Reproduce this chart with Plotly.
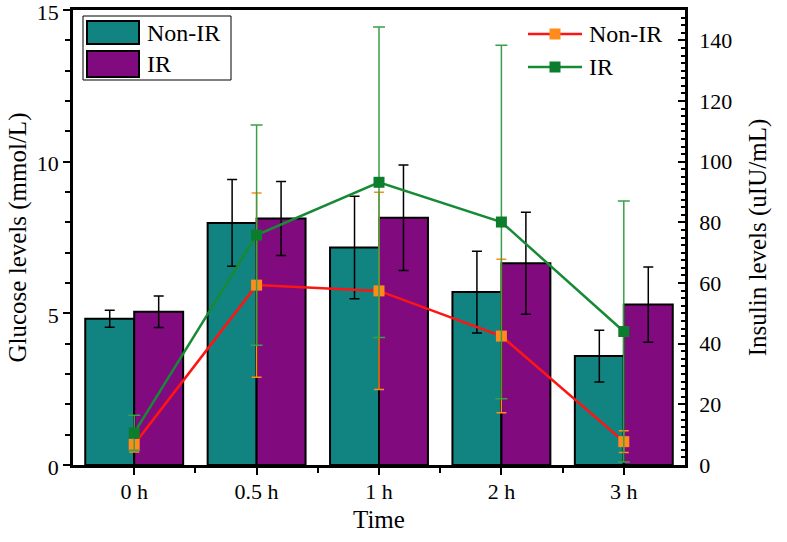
import plotly.graph_objects as go

categories = ["0 h", "0.5 h", "1 h", "2 h", "3 h"]
glucose_nonir = [4.82, 7.98, 7.17, 5.70, 3.59]
glucose_nonir_sd = [0.28, 1.43, 1.69, 1.35, 0.85]
glucose_ir = [5.05, 8.13, 8.15, 6.65, 5.29]
glucose_ir_sd = [0.52, 1.22, 1.74, 1.68, 1.24]
insulin_nonir = [6.8, 59.3, 57.4, 42.5, 7.7]
insulin_nonir_sd = [2.5, 30.4, 32.5, 25.3, 3.6]
insulin_ir = [10.6, 75.8, 93.2, 80.1, 44.0]
insulin_ir_sd = [5.8, 36.3, 51.2, 58.3, 43.0]

FONT = '"Liberation Serif", "Times New Roman", serif'
TEAL = "#118381"
PURPLE = "#800a7e"
RED = "#ff1414"
ORANGE = "#ff8c1a"
GREEN = "#168a35"
GREEN_MK = "#0b7d2d"
GREEN_ERR = "#3aa048"

xpos = list(range(len(categories)))

fig = go.Figure()
fig.add_trace(go.Bar(
    x=xpos, y=glucose_nonir, name="Non-IR", marker=dict(color=TEAL, line=dict(color="black", width=2)),
    error_y=dict(type="data", array=glucose_nonir_sd, color="black", thickness=1.5, width=5),
    showlegend=False, yaxis="y"))
fig.add_trace(go.Bar(
    x=xpos, y=glucose_ir, name="IR", marker=dict(color=PURPLE, line=dict(color="black", width=2)),
    error_y=dict(type="data", array=glucose_ir_sd, color="black", thickness=1.5, width=5),
    showlegend=False, yaxis="y"))
fig.add_trace(go.Scatter(
    x=xpos, y=insulin_nonir, name="Non-IR", mode="lines+markers", yaxis="y2",
    line=dict(color=RED, width=2.5),
    marker=dict(symbol="square", size=11, color=ORANGE),
    error_y=dict(type="data", array=insulin_nonir_sd, color=ORANGE, thickness=1.5, width=5),
    showlegend=False))
fig.add_trace(go.Scatter(
    x=xpos, y=insulin_ir, name="IR", mode="lines+markers", yaxis="y2",
    line=dict(color=GREEN, width=2.5),
    marker=dict(symbol="square", size=11, color=GREEN_MK),
    error_y=dict(type="data", array=insulin_ir_sd, color=GREEN_ERR, thickness=1.5, width=6),
    showlegend=False))

# plot-area geometry (pixels) for manual legends
L, R, T, B = 73, 685, 10, 465
W, H = R - L, B - T
def px(x):
    return (x - L) / W
def py(y):
    return (B - y) / H

shapes = []
annotations = []
# bar legend box
shapes.append(dict(type="rect", xref="paper", yref="paper", x0=px(83), x1=px(231), y0=py(80), y1=py(16),
                   line=dict(color="black", width=1), fillcolor="white", layer="above"))
for (y0, y1, col, label, yc) in [(21, 44, TEAL, "Non-IR", 33), (51, 77, PURPLE, "IR", 64)]:
    shapes.append(dict(type="rect", xref="paper", yref="paper", x0=px(87), x1=px(139), y0=py(y1), y1=py(y0),
                       line=dict(color="black", width=2), fillcolor=col, layer="above"))
    annotations.append(dict(xref="paper", yref="paper", x=px(145), y=py(yc), text=label, showarrow=False,
                            xanchor="left", yanchor="middle", font=dict(family=FONT, size=24, color="black")))
# line legend
for (yc, lcol, mcol, label) in [(34, RED, ORANGE, "Non-IR"), (67, GREEN, GREEN_MK, "IR")]:
    shapes.append(dict(type="line", xref="paper", yref="paper", x0=px(528), x1=px(582), y0=py(yc), y1=py(yc),
                       line=dict(color=lcol, width=2.5), layer="above"))
    shapes.append(dict(type="rect", xref="paper", yref="paper", x0=px(549.5), x1=px(560.5), y0=py(yc + 5.5),
                       y1=py(yc - 5.5), line=dict(width=0), fillcolor=mcol, layer="above"))
    annotations.append(dict(xref="paper", yref="paper", x=px(587), y=py(yc), text=label, showarrow=False,
                            xanchor="left", yanchor="middle", font=dict(family=FONT, size=24, color="black")))

tickfont = dict(family=FONT, size=22, color="black")
titlefont = dict(family=FONT, size=25, color="black")

# x-axis title placed as an annotation for exact vertical position
annotations.append(dict(xref="paper", yref="paper", x=0.5, y=py(519), text="Time", showarrow=False,
                        xanchor="center", yanchor="middle", font=titlefont))

fig.update_layout(
    width=787, height=542,
    margin=dict(l=L, r=787 - R, t=T, b=542 - B, autoexpand=False),
    paper_bgcolor="white", plot_bgcolor="white",
    barmode="group", bargap=0.2, bargroupgap=0,
    font=dict(family=FONT, color="black"),
    shapes=shapes, annotations=annotations,
    xaxis=dict(range=[-0.5, 4.5], tickmode="array", tickvals=xpos, ticktext=categories,
               ticks="outside", ticklen=7, tickwidth=2, tickcolor="black",
               minor=dict(tickmode="array", tickvals=[0.5, 1.5, 2.5, 3.5], ticks="outside", ticklen=5,
                          tickwidth=2, tickcolor="black"),
               showline=True, linewidth=2.5, linecolor="black", mirror=True, automargin=False,
               showgrid=False, zeroline=False, tickfont=tickfont, ticklabeloverflow="allow",
               ticklabelstandoff=-2),
    yaxis=dict(range=[0, 15], dtick=5, ticks="outside", ticklen=7, tickwidth=2, tickcolor="black",
               minor=dict(dtick=1, ticks="outside", ticklen=5, tickwidth=2, tickcolor="black"),
               showline=True, linewidth=2.5, linecolor="black", showgrid=False, zeroline=False,
               automargin=False, ticklabeloverflow="allow", ticklabelshift=2,
               tickfont=tickfont, title=dict(text="Glucose levels (mmol/L)", font=titlefont, standoff=4)),
    yaxis2=dict(range=[0, 150], dtick=20, overlaying="y", side="right", automargin=False,
                ticks="inside", ticklen=7, tickwidth=2, tickcolor="black", ticklabelstandoff=7,
                ticklabeloverflow="allow",
                minor=dict(dtick=2.5, ticks="inside", ticklen=4, tickwidth=1.5, tickcolor="black"),
                showline=True, linewidth=2.5, linecolor="black", showgrid=False, zeroline=False,
                tickfont=tickfont, title=dict(text="Insulin levels (uIU/mL)", font=titlefont, standoff=18)),
)

fig.write_html("out.html", post_script="document.body.style.margin='0';",
               config={"displayModeBar": False})
